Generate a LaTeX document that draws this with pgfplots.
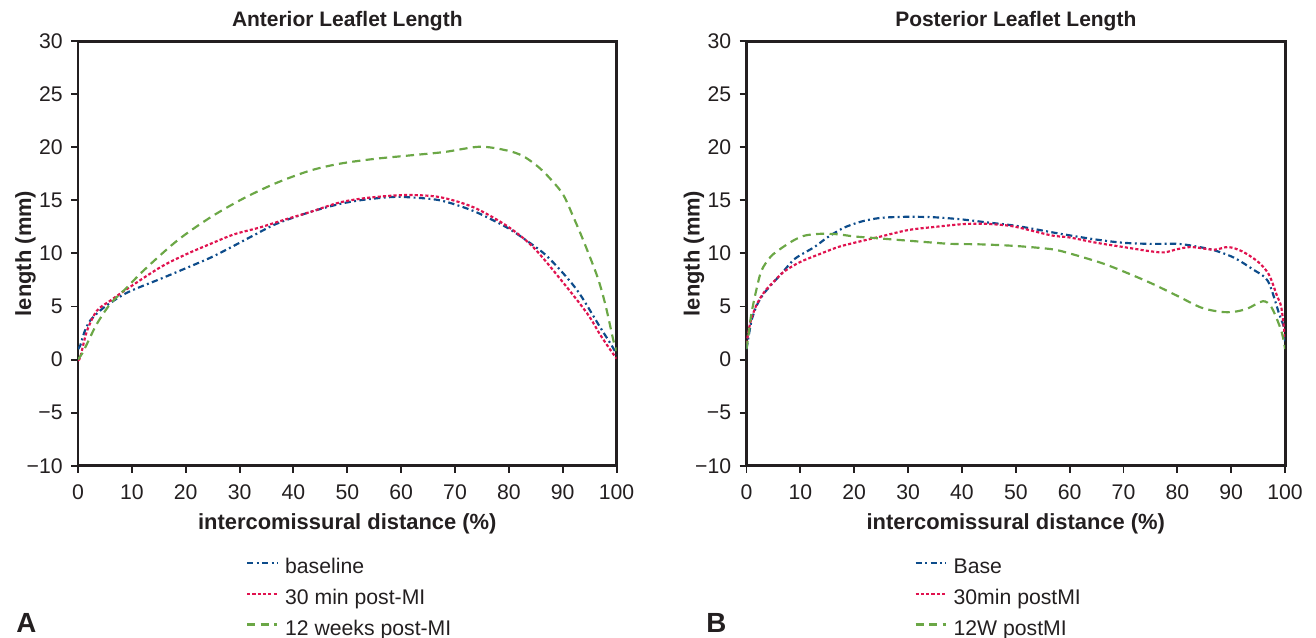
\documentclass[border=0pt]{standalone}
\usepackage{pgfplots}
\pgfplotsset{compat=1.18}
\usepackage{fontspec}
\setmainfont{Liberation Sans}

\definecolor{cBase}{HTML}{0D4C8B}
\definecolor{cMin}{HTML}{E0124F}
\definecolor{cWeek}{HTML}{6BA746}
\definecolor{cText}{HTML}{231F20}

\pgfplotsset{
  every axis title/.style={at={(axis description cs:0.5,1)}, anchor=base, yshift=6.1pt,
    text=cText, font=\bfseries\fontsize{8.7pt}{10pt}\selectfont},
  leaflet/.style={
    scale only axis,
    width=7.858cm, height=6.196cm,
    anchor=south west,
    xmin=0, xmax=100, ymin=-10, ymax=30,
    xtick={0,10,...,100},
    xticklabels={0,10,20,30,40,50,60,70,80,90,100},
    ytick={-10,-5,...,30},
    yticklabels={−10,−5,0,5,10,15,20,25,30},
    xtick pos=left, ytick pos=left,
    tick align=outside,
    major tick length=2.9pt,
    axis line style={line width=1.2pt, cText},
    every tick/.style={line width=0.8pt, cText},
    xticklabel style={anchor=north, inner sep=0pt, yshift=-4.6pt, text=cText},
    yticklabel style={anchor=east, inner sep=0pt, xshift=-3.3pt, text=cText},
    xlabel style={at={(axis description cs:0.5,0)}, anchor=base, yshift=-26.6pt,
      font=\bfseries\fontsize{9.1pt}{11pt}\selectfont, text=cText},
    ylabel style={at={(axis description cs:-0.087,0.5)}, anchor=base,
      font=\bfseries\fontsize{9.1pt}{11pt}\selectfont, text=cText},
    xlabel={intercomissural distance (\%)},
    ylabel={length (mm)},
    legend image code/.code={\draw[#1] (0cm,2.4pt) -- (0.44cm,2.4pt);},
    legend cell align=left,
    legend style={draw=none, fill=none, inner sep=0pt,
      at={(axis description cs:0.311,-0.2185)}, anchor=north west,
      column sep=0.1cm, row sep=4.8pt,
      nodes={inner sep=0pt, text height=6pt, text depth=2pt, text=cText}},
  },
  sBase/.style={cBase, line width=0.9pt, smooth, dash pattern=on 2.6pt off 1.4pt on 0.8pt off 1.4pt},
  sMin/.style={cMin, line width=0.9pt, smooth, dash pattern=on 1.3pt off 0.9pt},
  sWeek/.style={cWeek, line width=0.9pt, smooth, dash pattern=on 3.4pt off 2.2pt},
}

\begin{document}
\fontsize{8.8pt}{10.5pt}\selectfont
\begin{tikzpicture}
\useasboundingbox (0,0) rectangle (19.2cm,-9.308cm);

% A: anterior leaflet
\begin{axis}[leaflet, at={(1.138cm,-6.795cm)}, title={Anterior Leaflet Length}]
\addplot[sBase] coordinates {
  (0,1.0) (0.4,1.3) (1.2,2.6) (2.3,3.7) (4.8,4.9) (9.1,6.3) (15.3,7.6)
  (20,8.6) (24.6,9.6) (28.5,10.6) (32.6,11.7) (36.9,12.8) (43.1,13.9)
  (48.6,14.66) (53,15.05) (57.9,15.3) (61,15.3) (67.2,15.0) (73.4,14.0)
  (79.6,12.45) (83.3,11.2) (86.5,10.0) (89.6,8.4) (93,6.3) (97,3.0)
  (99,1.4) (100,0.5)
};
\addlegendentry{baseline}
\addplot[sMin] coordinates {
  (0,0.0) (0.4,0.2) (1.67,2.7) (3.5,4.6) (6,5.55) (9.1,6.65) (15.3,8.7)
  (20,9.9) (24.6,10.9) (29,11.8) (33.8,12.45) (38.5,13.2) (43.1,13.9)
  (48.6,14.8) (54,15.25) (61,15.5) (67.2,15.3) (73.4,14.35) (79.6,12.6)
  (84.5,10.6) (90,7.3) (94.6,4.3) (97,2.3) (99,0.8) (100,0.1)
};
\addlegendentry{30 min post-MI}
\addplot[sWeek] coordinates {
  (0,0.0) (0.8,0.6) (1.67,1.48) (3.5,3.36) (6,5.24) (9.1,6.8) (12.2,8.4)
  (18.4,11.2) (24.6,13.4) (30.8,15.2) (36.9,16.65) (43.1,17.8) (48.6,18.45)
  (55,18.9) (61,19.2) (68,19.55) (74.6,20.05) (79.6,19.7) (82.5,19.2)
  (85.1,18.3) (87.2,17.3) (90,15.6) (92,13.4) (94,11.0) (96.5,7.7)
  (98,5.0) (99.4,1.8) (100,0.8)
};
\addlegendentry{12 weeks post-MI}
\end{axis}

% B: posterior leaflet
\begin{axis}[leaflet, at={(10.891cm,-6.795cm)}, title={Posterior Leaflet Length}]
\addplot[sBase] coordinates {
  (0,1.0) (0.5,2.5) (1,3.8) (2,5.2) (3.5,6.4) (6.5,8.1) (9,9.5) (12.6,10.6)
  (15,11.5) (18,12.4) (21.3,13.0) (25,13.35) (30,13.45) (35,13.4) (40,13.2)
  (45,12.9) (50,12.6) (56.6,12.0) (60,11.7) (65,11.3) (70,11.0) (75,10.9)
  (80,10.9) (83,10.7) (86.8,10.3) (90.5,9.6) (94,8.5) (96.8,7.4) (98.9,4.3)
  (99.8,3.0) (100,1.5)
};
\addlegendentry{Base}
\addplot[sMin] coordinates {
  (0,1.5) (0.5,3.0) (1,4.0) (2,5.3) (3.5,6.5) (5,7.3) (7,8.3) (10,9.2)
  (13.9,10.0) (17,10.6) (20,11.0) (25,11.6) (30,12.2) (35,12.5) (40,12.75)
  (43.6,12.8) (47,12.7) (50,12.5) (56.6,11.7) (60,11.5) (65,11.0) (70,10.6)
  (75,10.2) (77.6,10.1) (80,10.4) (82.6,10.6) (86.8,10.35) (89.4,10.6)
  (92,10.2) (95,9.2) (97,8.0) (98.5,6.0) (99.3,4.9) (100,2.0)
};
\addlegendentry{30min postMI}
\addplot[sWeek] coordinates {
  (0,1.0) (0.5,2.8) (0.9,4.3) (1.8,6.5) (2.8,8.4) (4.5,9.7) (6.5,10.5)
  (9,11.3) (11,11.7) (13.9,11.85) (17,11.8) (20,11.6) (25,11.4) (30,11.2)
  (35,11.0) (38,10.9) (43.6,10.85) (50,10.7) (56.6,10.4) (60,10.0)
  (65.9,9.1) (70,8.3) (75.1,7.2) (80,6.0) (84.4,4.9) (88,4.5) (90.5,4.5)
  (93,4.8) (95.9,5.5) (97.5,4.9) (99.3,2.7) (100,1.0)
};
\addlegendentry{12W postMI}
\end{axis}

\node[anchor=base west, inner sep=0pt, text=cText, font=\bfseries\fontsize{11.5pt}{12pt}\selectfont]
  at (0.233cm,-9.221cm) {A};
\node[anchor=base west, inner sep=0pt, text=cText, font=\bfseries\fontsize{11.5pt}{12pt}\selectfont]
  at (10.30cm,-9.221cm) {B};
\end{tikzpicture}
\end{document}
